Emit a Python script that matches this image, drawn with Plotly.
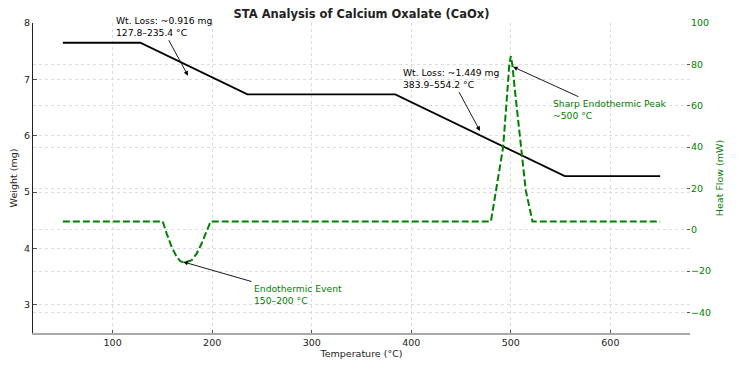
import plotly.graph_objects as go

# ---- data ----
temp_weight = [50, 127.8, 235.4, 383.9, 554.2, 650]
weight_mg = [7.65, 7.65, 6.734, 6.734, 5.285, 5.285]

temp_heat = [50, 150.3, 154.3, 159.3, 164.4, 168, 171, 175, 179.4, 184.4, 189.4, 194.5, 198.5,
             480, 485, 492.3, 496.7, 498.5, 500, 501.5, 504, 510, 515, 521.8, 650]
heat_mw = [4, 4, -1.9, -8.4, -13.2, -15.2, -15.8, -15.5, -14.8, -11.6, -6.7, -1.1, 4,
           4, 19, 40, 68, 80, 84, 80, 68, 40, 19, 4, 4]

x_ticks = [100, 200, 300, 400, 500, 600]
y_ticks = [3, 4, 5, 6, 7, 8]
y2_ticks = [-40, -20, 0, 20, 40, 60, 80, 100]

FONT = "DejaVu Sans"
GREEN = "#008000"
GRID = "#dcdcdc"

W, H = 721, 353
ML, MR, MT, MB = 25, 39, 15, 28

fig = go.Figure()
fig.add_trace(go.Scatter(x=temp_weight, y=weight_mg, mode="lines",
                         line=dict(color="black", width=1.8), yaxis="y",
                         name="Weight", hoverinfo="skip"))
fig.add_trace(go.Scatter(x=temp_heat, y=heat_mw, mode="lines",
                         line=dict(color=GREEN, width=2, dash="7px,3px"), yaxis="y2",
                         name="Heat Flow", hoverinfo="skip"))

annotations = []
# arrows (black)
arrows = [
    dict(x=175.7, y=7.066, ax=155.6, ay=7.72, yref="y", ayref="y"),
    dict(x=469, y=6.086, ax=447.2, ay=6.80, yref="y", ayref="y"),
    dict(x=502.2, y=78.8, ax=569.5, ay=64, yref="y2", ayref="y2"),
    dict(x=171, y=-15.6, ax=241, ay=-25.3, yref="y2", ayref="y2"),
]
for a in arrows:
    annotations.append(dict(text="", showarrow=True, xref="x", axref="x",
                            arrowhead=2, arrowsize=1, arrowwidth=0.9,
                            arrowcolor="black", standoff=0, startstandoff=0, **a))

plot_h = H - MT - MB
texts = [
    dict(x=101, y=1 + 10 / plot_h, yref="paper", text="Wt. Loss: ~0.916 mg<br>127.8–235.4 °C", color="black"),
    dict(x=389.7, y=7.25, yref="y", text="Wt. Loss: ~1.449 mg<br>383.9–554.2 °C", color="black"),
    dict(x=540.4, y=64.5, yref="y2", text="Sharp Endothermic Peak<br>~500 °C", color=GREEN),
    dict(x=240, y=-25.0, yref="y2", text="Endothermic Event<br>150–200 °C", color=GREEN),
]
for t in texts:
    annotations.append(dict(x=t["x"], y=t["y"], xref="x", yref=t["yref"], text=t["text"],
                            showarrow=False, xanchor="left", yanchor="top", align="left",
                            font=dict(family=FONT, size=9.2, color=t["color"])))

fig.update_layout(
    width=W, height=H,
    margin=dict(l=ML, r=MR, t=MT, b=MB, autoexpand=False),
    paper_bgcolor="white", plot_bgcolor="white",
    showlegend=False,
    font=dict(family=FONT, size=9.5, color="#222"),
    title=dict(text="<b>STA Analysis of Calcium Oxalate (CaOx)</b>",
               x=(ML + (W - MR)) / 2 / W, xanchor="center",
               y=1 - 6 / H, yanchor="middle", yref="container",
               font=dict(family=FONT, size=11.5, color="#222")),
    xaxis=dict(range=[20, 680], tickvals=x_ticks, ticks="inside", ticklen=3.5,
               tickcolor="#555", showgrid=True, gridcolor=GRID, griddash="dot",
               gridwidth=1, showline=True, linecolor="#aaaaaa", linewidth=1.5,
               zeroline=False, tickfont=dict(size=9.5, color="#222"), automargin=False,
               title=dict(text="Temperature (°C)", standoff=3,
                          font=dict(size=9.5, color="#222"))),
    yaxis=dict(range=[2.5, 8], tickvals=y_ticks, ticks="inside", ticklen=3.5,
               tickcolor="#555", showgrid=True, gridcolor=GRID, griddash="dot",
               gridwidth=1, showline=True, linecolor="#222", linewidth=1.2,
               zeroline=False, tickfont=dict(size=9.5, color="#222"), automargin=False,
               title=dict(text="Weight (mg)", standoff=4,
                          font=dict(size=9.5, color="#222"))),
    yaxis2=dict(range=[-50, 100], tickvals=y2_ticks, overlaying="y", side="right",
                ticks="inside", ticklen=3.5, tickcolor="#555",
                showgrid=True, gridcolor=GRID, griddash="dot", gridwidth=1,
                showline=False, zeroline=False, automargin=False,
                tickfont=dict(size=9.5, color=GREEN),
                title=dict(text="Heat Flow (mW)", standoff=6,
                           font=dict(size=9.5, color=GREEN))),
    annotations=annotations,
)

fig.write_html("out.html")
